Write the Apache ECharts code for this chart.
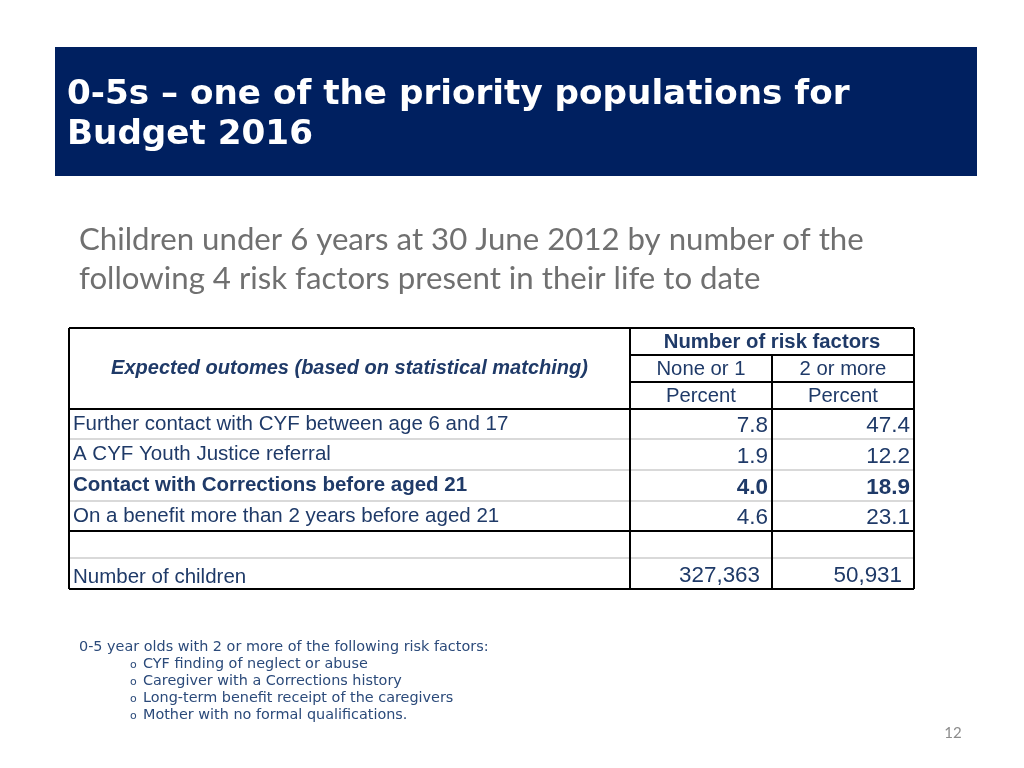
<!DOCTYPE html>
<html><head><meta charset="utf-8">
<script src="https://cdn.jsdelivr.net/npm/echarts@6/dist/echarts.min.js"></script>
<style>html,body{margin:0;padding:0;background:#fff}#c{width:1024px;height:768px}</style>
</head><body><div id="c"></div>
<script>
// ---- data ----
const titleLines = ["0-5s \u2013 one of the priority populations for", "Budget 2016"];
const subtitleLines = ["Children under 6 years at 30 June 2012 by number of the", "following 4 risk factors present in their life to date"];
const headerLeft = "Expected outomes (based on statistical matching)";
const headerGroup = "Number of risk factors";
const groupLabels = ["None or 1", "2 or more"];
const unitLabels = ["Percent", "Percent"];
const rowLabels = [
  "Further contact with CYF between age 6 and 17",
  "A CYF Youth Justice referral",
  "Contact with Corrections before aged 21",
  "On a benefit more than 2 years before aged 21"
];
const noneOr1 = [7.8, 1.9, 4.0, 4.6];
const twoOrMore = [47.4, 12.2, 18.9, 23.1];
const highlightRow = 2;
const countLabel = "Number of children";
const childCounts = [327363, 50931];
const footHead = "0-5 year olds with 2 or more of the following risk factors:";
const footItems = [
  "CYF finding of neglect or abuse",
  "Caregiver with a Corrections history",
  "Long-term benefit receipt of the caregivers",
  "Mother with no formal qualifications."
];
const pageNo = "12";

// ---- layout ----
const NAVY = '#002060', TXT = '#1F3A68', GRID = '#d9d9d9', FOOT = '#2B4A7A';
const X = [69, 630, 772, 914];
const HY = [328, 355, 382, 409];
const RY = [409, 439, 470, 501, 531];
const EY = [531, 558, 589];
const g = [];
function line(x1, y1, x2, y2, c, w) {
  g.push({type: 'line', shape: {x1, y1, x2, y2}, style: {stroke: c, lineWidth: w}, z: c === GRID ? 1 : 3});
}
function text(t, x, y, o) {
  g.push({type: 'text', x, y, style: Object.assign({text: t, fill: TXT, fontFamily: 'Liberation Sans, Arial', fontSize: 20.5, textVerticalAlign: 'middle'}, o), z: 5});
}
// header box
g.push({type: 'rect', shape: {x: 55, y: 47, width: 922, height: 129}, style: {fill: NAVY}, z: 0});
titleLines.forEach((t, i) => text(t, 67, 95 + i * 40, {fill: '#fff', fontFamily: 'DejaVu Sans', fontWeight: 'bold', fontSize: 34.2}));
subtitleLines.forEach((t, i) => text(t, 79, 240 + i * 39, {fill: '#707070', fontFamily: 'Lato', fontSize: 31.2}));

// table light lines
RY.slice(1, 4).forEach(y => line(X[0], y, X[3], y, GRID, 2));
line(X[0], EY[1], X[3], EY[1], GRID, 2);
// table black lines
line(X[0], HY[0], X[3], HY[0], '#000', 2);
line(X[1], HY[1], X[3], HY[1], '#000', 2);
line(X[1], HY[2], X[3], HY[2], '#000', 2);
line(X[0], HY[3], X[3], HY[3], '#000', 2);
line(X[0], RY[4], X[3], RY[4], '#000', 2);
line(X[0], EY[2], X[3], EY[2], '#000', 2);
line(X[0], HY[0], X[0], EY[2], '#000', 2);
line(X[1], HY[0], X[1], EY[2], '#000', 2);
line(X[2], HY[1], X[2], EY[2], '#000', 2);
line(X[3], HY[0], X[3], EY[2], '#000', 2);

// header texts
text(headerLeft, (X[0] + X[1]) / 2, 368, {textAlign: 'center', fontWeight: 'bold', fontStyle: 'italic', fontSize: 20});
text(headerGroup, (X[1] + X[3]) / 2, 342, {textAlign: 'center', fontWeight: 'bold', fontSize: 20.3});
groupLabels.forEach((t, i) => text(t, (X[1 + i] + X[2 + i]) / 2, 369, {textAlign: 'center', fontSize: 20.3}));
unitLabels.forEach((t, i) => text(t, (X[1 + i] + X[2 + i]) / 2, 396, {textAlign: 'center', fontSize: 20.3}));

// data rows
rowLabels.forEach((lab, i) => {
  const cy = (RY[i] + RY[i + 1]) / 2 + 1;
  const b = i === highlightRow ? 'bold' : 'normal';
  text(lab, X[0] + 4, cy - 1, {fontWeight: b});
  text(noneOr1[i].toFixed(1), X[2] - 4, cy + 1, {textAlign: 'right', fontSize: 22.5, fontWeight: b});
  text(twoOrMore[i].toFixed(1), X[3] - 4, cy + 1, {textAlign: 'right', fontSize: 22.5, fontWeight: b});
});
text(countLabel, X[0] + 4, 577, {});
childCounts.forEach((v, i) => text(v.toLocaleString('en-US'), X[2 + i] - 12, 576, {textAlign: 'right', fontSize: 22.4}));

// footnote
text(footHead, 79, 647, {fontFamily: 'DejaVu Sans', fontSize: 14.4, fill: FOOT});
footItems.forEach((t, i) => {
  text('o', 130, 665 + i * 17, {fontFamily: 'DejaVu Sans', fontSize: 11, fill: FOOT});
  text(t, 143, 664 + i * 17, {fontFamily: 'DejaVu Sans', fontSize: 14.4, fill: FOOT});
});
text(pageNo, 953, 733, {textAlign: 'center', fontFamily: 'Lato', fontSize: 15, fill: '#8c8c8c'});

const chart = echarts.init(document.getElementById('c'), null, {renderer: 'canvas'});
chart.setOption({backgroundColor: '#fff', animation: false, graphic: {elements: g}});
</script></body></html>
